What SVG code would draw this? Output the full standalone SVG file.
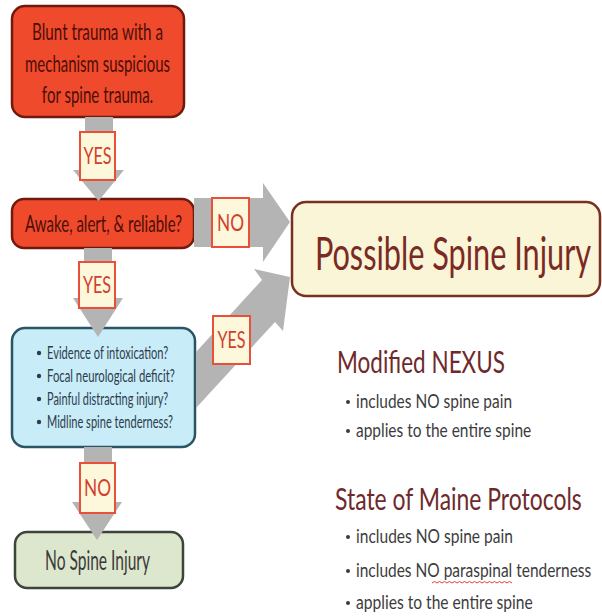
<svg xmlns="http://www.w3.org/2000/svg" width="602" height="616" viewBox="0 0 602 616">
<style>
text{font-family:Lato,"Open Sans","Liberation Sans",sans-serif}
.red{fill:#f04a2c;stroke:#6e1a0e;stroke-width:2.5}
.redt{fill:#4a0e08;font-size:23px;text-anchor:middle}
.arrow{fill:#b4b4b4}
.lab{fill:#fdf7dc;stroke:#e8503a;stroke-width:2}
.labt{fill:#d2402c;font-size:23px;text-anchor:middle}
.poss{fill:#fbf5d8;stroke:#7a3020;stroke-width:2.5}
.blue{fill:#c8ecf8;stroke:#2b5564;stroke-width:2.5}
.bluet{fill:#2e3d4c;font-size:18px}
.green{fill:#dde7cd;stroke:#3b4538;stroke-width:2.5}
.title{fill:#6e2a2a;font-size:31px}
.bul{fill:#3c3c3c;font-size:19px}
</style>
<g id="box-blunt">
<rect class="red" x="12" y="6" width="172" height="111" rx="13"/>
<text class="redt" transform="translate(97.5,40) scale(0.7,1)" textLength="187" lengthAdjust="spacingAndGlyphs">Blunt trauma with a</text>
<text class="redt" transform="translate(97.5,72) scale(0.7,1)" textLength="207" lengthAdjust="spacingAndGlyphs">mechanism suspicious</text>
<text class="redt" transform="translate(97.5,103) scale(0.7,1)" textLength="159" lengthAdjust="spacingAndGlyphs">for spine trauma.</text>
</g>
<g id="box-awake">
<rect class="red" x="12" y="199" width="182" height="49" rx="12"/>
<text class="redt" transform="translate(103.5,232) scale(0.7,1)" textLength="224" lengthAdjust="spacingAndGlyphs">Awake, alert, &amp; reliable?</text>
</g>
<g id="box-criteria">
<rect class="blue" x="12" y="328" width="183" height="119" rx="13"/>
<circle cx="39" cy="353" r="2.2" fill="#2e3d4c"/>
<circle cx="39" cy="376" r="2.2" fill="#2e3d4c"/>
<circle cx="39" cy="399" r="2.2" fill="#2e3d4c"/>
<circle cx="39" cy="422" r="2.2" fill="#2e3d4c"/>
<text class="bluet" transform="translate(47,359) scale(0.6,1)" textLength="202" lengthAdjust="spacingAndGlyphs">Evidence of intoxication?</text>
<text class="bluet" transform="translate(47,382) scale(0.6,1)" textLength="213" lengthAdjust="spacingAndGlyphs">Focal neurological deficit?</text>
<text class="bluet" transform="translate(47,405) scale(0.6,1)" textLength="202" lengthAdjust="spacingAndGlyphs">Painful distracting injury?</text>
<text class="bluet" transform="translate(47,428) scale(0.6,1)" textLength="210" lengthAdjust="spacingAndGlyphs">Midline spine tenderness?</text>
</g>
<g id="box-nospine">
<rect class="green" x="15" y="532" width="168" height="56" rx="12"/>
<text transform="translate(97.5,570) scale(0.6,1)" fill="#3a3a3a" font-size="26" text-anchor="middle" textLength="175" lengthAdjust="spacingAndGlyphs">No Spine Injury</text>
</g>
<g id="box-possible">
<rect class="poss" x="292" y="202" width="308" height="94" rx="14"/>
<text transform="translate(453,270) scale(0.65,1)" fill="#7a2a22" font-size="46" text-anchor="middle" textLength="425" lengthAdjust="spacingAndGlyphs">Possible Spine Injury</text>
</g>
<g id="connectors">
<polygon class="arrow" points="85,117 113,117 113,170 124,170 98.5,201 73,170 85,170"/>
<polygon class="arrow" points="84,248 112,248 112,298 123,298 98,337 73,298 84,298"/>
<polygon class="arrow" points="84,447 112,447 112,502 122,502 97,540 72,502 84,502"/>
<polygon class="arrow" points="194,198 263,198 263,183 290,222 263,262 263,247 194,247"/>
<polygon class="arrow" points="196,352 262,280 254,269 290,277 283,331 275,322 196,408"/>
</g>
<g id="label-yes1">
<rect class="lab" x="80" y="132" width="35" height="48"/>
<text class="labt" transform="translate(97.5,164) scale(0.76,1)" textLength="37" lengthAdjust="spacingAndGlyphs">YES</text>
</g>
<g id="label-yes2">
<rect class="lab" x="79" y="262" width="36" height="46"/>
<text class="labt" transform="translate(97,293) scale(0.76,1)" textLength="37" lengthAdjust="spacingAndGlyphs">YES</text>
</g>
<g id="label-no1">
<rect class="lab" x="212" y="198" width="37" height="49"/>
<text class="labt" transform="translate(230.5,231) scale(0.76,1)" textLength="35.5" lengthAdjust="spacingAndGlyphs">NO</text>
</g>
<g id="label-yes3">
<rect class="lab" x="213" y="316" width="37" height="48"/>
<text class="labt" transform="translate(231.5,348) scale(0.76,1)" textLength="37" lengthAdjust="spacingAndGlyphs">YES</text>
</g>
<g id="label-no2">
<rect class="lab" x="80" y="463" width="35" height="50"/>
<text class="labt" transform="translate(97.5,496) scale(0.76,1)" textLength="35.5" lengthAdjust="spacingAndGlyphs">NO</text>
</g>
<g id="nexus">
<text class="title" transform="translate(337,373) scale(0.75,1)" textLength="224" lengthAdjust="spacingAndGlyphs">Modified NEXUS</text>
<circle cx="348" cy="402" r="2" fill="#3c3c3c"/>
<circle cx="348" cy="431" r="2" fill="#3c3c3c"/>
<text class="bul" transform="translate(356,408) scale(0.8,1)" textLength="195" lengthAdjust="spacingAndGlyphs">includes NO spine pain</text>
<text class="bul" transform="translate(356,437) scale(0.8,1)" textLength="219" lengthAdjust="spacingAndGlyphs">applies to the entire spine</text>
</g>
<g id="maine">
<text class="title" transform="translate(335,510) scale(0.75,1)" textLength="329" lengthAdjust="spacingAndGlyphs">State of Maine Protocols</text>
<circle cx="348" cy="537" r="2" fill="#3c3c3c"/>
<circle cx="348" cy="571" r="2" fill="#3c3c3c"/>
<circle cx="348" cy="603" r="2" fill="#3c3c3c"/>
<text class="bul" transform="translate(356,543) scale(0.8,1)" textLength="196" lengthAdjust="spacingAndGlyphs">includes NO spine pain</text>
<text class="bul" transform="translate(356,577) scale(0.8,1)" textLength="294" lengthAdjust="spacingAndGlyphs">includes NO paraspinal tenderness</text>
<text class="bul" transform="translate(356,609) scale(0.8,1)" textLength="221" lengthAdjust="spacingAndGlyphs">applies to the entire spine</text>
<path d="M432,583 l2.5,-1.5 l2.5,1.5 l2.5,-1.5 l2.5,1.5 l2.5,-1.5 l2.5,1.5 l2.5,-1.5 l2.5,1.5 l2.5,-1.5 l2.5,1.5 l2.5,-1.5 l2.5,1.5 l2.5,-1.5 l2.5,1.5 l2.5,-1.5 l2.5,1.5 l2.5,-1.5 l2.5,1.5 l2.5,-1.5 l2.5,1.5 l2.5,-1.5 l2.5,1.5 l2.5,-1.5 l2.5,1.5 l2.5,-1.5 l2.5,1.5 l2.5,-1.5 l2.5,1.5 l2.5,-1.5 l2.5,1.5 l2.5,-1.5 l2.5,1.5" fill="none" stroke="#e04040" stroke-width="1"/>
</g>
</svg>
